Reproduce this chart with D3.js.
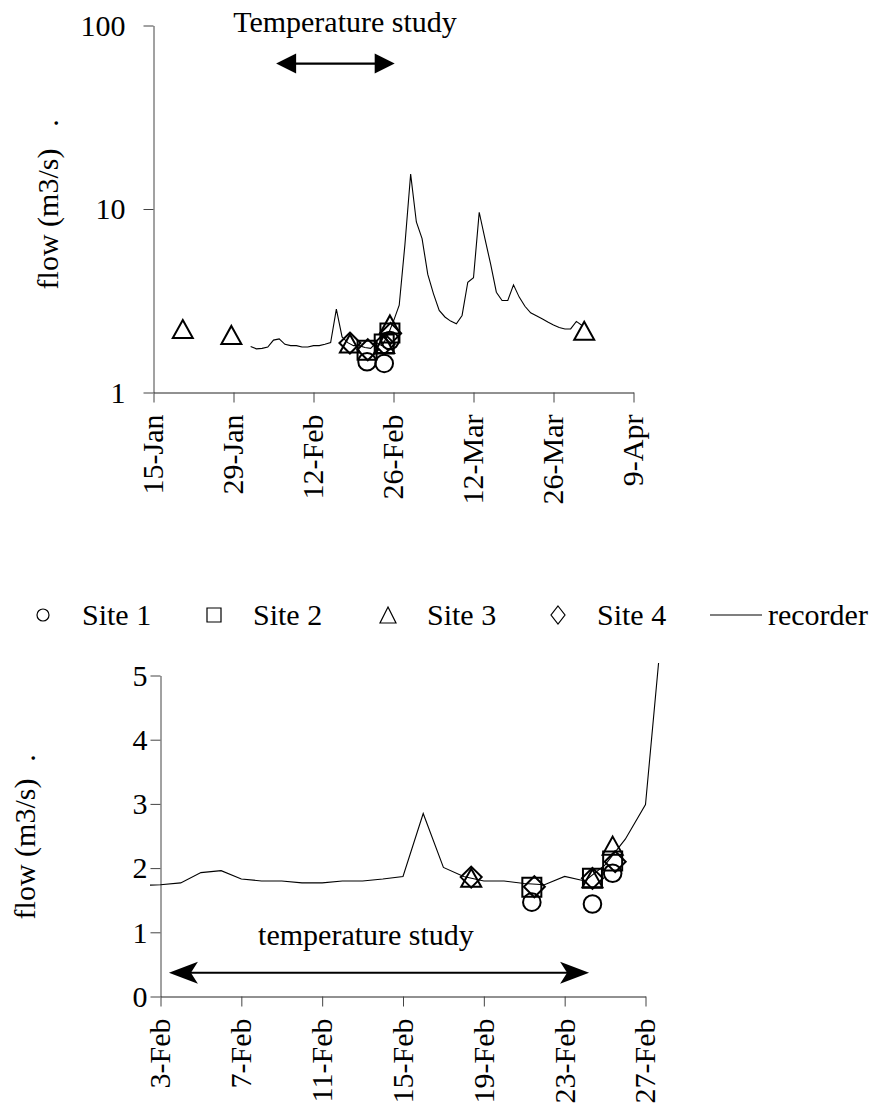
<!DOCTYPE html>
<html><head><meta charset="utf-8">
<title>flow chart r8</title>
<script src="https://cdn.jsdelivr.net/npm/d3@7"></script>
</head><body style="margin:0;background:#fff">
<svg id="c" width="891" height="1115"></svg>
<script>
// ---------------- DATA (revision 8) ----------------
const recorderDates = [
 "2001-02-01","2001-02-02","2001-02-03","2001-02-04","2001-02-05","2001-02-06","2001-02-07",
 "2001-02-08","2001-02-09","2001-02-10","2001-02-11","2001-02-12","2001-02-13","2001-02-14",
 "2001-02-15","2001-02-16","2001-02-17","2001-02-18","2001-02-19","2001-02-20","2001-02-21",
 "2001-02-22","2001-02-23","2001-02-24","2001-02-25","2001-02-26","2001-02-27","2001-02-28",
 "2001-03-01","2001-03-02","2001-03-03","2001-03-04","2001-03-05","2001-03-06","2001-03-07",
 "2001-03-08","2001-03-09","2001-03-10","2001-03-11","2001-03-12","2001-03-13","2001-03-14",
 "2001-03-15","2001-03-16","2001-03-17","2001-03-18","2001-03-19","2001-03-20","2001-03-21",
 "2001-03-22","2001-03-23","2001-03-24","2001-03-25","2001-03-26","2001-03-27","2001-03-28",
 "2001-03-29","2001-03-30","2001-03-31"];
const recorderFlow = [
 1.78,1.73,1.74,1.77,1.93,1.96,1.83,
 1.80,1.80,1.77,1.77,1.80,1.80,1.83,
 1.87,2.85,2.01,1.87,1.80,1.80,1.76,
 1.74,1.87,1.80,2.05,2.45,2.99,6.4,
 15.5,8.5,6.9,4.4,3.45,2.80,2.58,
 2.45,2.37,2.63,3.99,4.22,9.6,6.9,
 5.0,3.52,3.17,3.17,3.86,3.31,2.95,
 2.72,2.62,2.52,2.42,2.33,2.26,2.22,
 2.22,2.44,2.32];

const site1Dates = ["2001-02-21 09:00","2001-02-24 09:00","2001-02-25 09:00"];
const site1Flow  = [1.47,1.44,1.92];
const site2Dates = ["2001-02-21 09:00","2001-02-24 09:00","2001-02-25 09:00"];
const site2Flow  = [1.70,1.84,2.11];
const site3Dates = ["2001-01-20 03:00","2001-01-28 15:00","2001-02-18 09:00","2001-02-24 09:00","2001-02-25 09:00","2001-03-31 09:00"];
const site3Flow  = [2.22,2.06,1.85,1.84,2.35,2.17];
const site4Dates = ["2001-02-18 09:00","2001-02-21 12:00","2001-02-24 09:00","2001-02-25 12:00"];
const site4Flow  = [1.86,1.71,1.84,2.10];

const topTicks = ["2001-01-15","2001-01-29","2001-02-12","2001-02-26","2001-03-12","2001-03-26","2001-04-09"];
const topYTicks = [1,10,100];
const bottomTicks = ["2001-02-03","2001-02-07","2001-02-11","2001-02-15","2001-02-19","2001-02-23","2001-02-27"];
const bottomYTicks = [0,1,2,3,4,5];

const legendLabels = ["Site 1","Site 2","Site 3","Site 4","recorder"];
const yAxisTitle = "flow (m3/s)";
const topStudyLabel = "Temperature study";
const bottomStudyLabel = "temperature study";
const topStudyArrow = ["2001-02-05 11:00","2001-02-26 05:00"];
const topStudyArrowFlow = 62;
const bottomStudyArrow = ["2001-02-03 10:00","2001-02-24 05:00"];
const bottomStudyArrowFlow = 0.37;

// ---------------- HELPERS ----------------
const parseDay = d3.utcParse("%Y-%m-%d");
const parseTime = d3.utcParse("%Y-%m-%d %H:%M");
const fmt = d3.utcFormat("%-d-%b");
const FONT = 30;
const SERIF = "serif";

const recorder = recorderDates.map((d,i)=>({date:parseDay(d), v:recorderFlow[i]}));
const sites = [
  {shape:"circle",   data: site1Dates.map((d,i)=>({date:parseTime(d), v:site1Flow[i]}))},
  {shape:"square",   data: site2Dates.map((d,i)=>({date:parseTime(d), v:site2Flow[i]}))},
  {shape:"triangle", data: site3Dates.map((d,i)=>({date:parseTime(d), v:site3Flow[i]}))},
  {shape:"diamond",  data: site4Dates.map((d,i)=>({date:parseTime(d), v:site4Flow[i]}))}
];

function markerPath(shape, w, h){
  if(shape==="circle"){ const p=d3.path(); p.arc(0,0,w,0,2*Math.PI); p.closePath(); return p.toString(); }
  if(shape==="square"){ return `M${-w},${-w}h${2*w}v${2*w}h${-2*w}Z`; }
  if(shape==="triangle"){ return `M0,${-h}L${w},${h}L${-w},${h}Z`; }
  if(shape==="diamond"){ return `M0,${-h}L${w},0L0,${h}L${-w},0Z`; }
}
const plotSize = {circle:[8.8,8.8], square:[9.5,9.5], triangle:[10,9], diamond:[10.5,10.5]};
const legSize  = {circle:[6,6], square:[7,7], triangle:[8,8], diamond:[7,9]};

const svg = d3.select("#c");
const textLayer = [];

function addText(){
  const t = svg.append("text");
  t.attr("font-family",SERIF).attr("font-size",FONT);
  t.node().getComputedTextLength();
  return t;
}

function drawChart(cfg){
  const g = svg.append("g");
  const x = d3.scaleUtc().domain(cfg.xDomain).range(cfg.xRange);
  const y = cfg.yScale;

  const clipId = cfg.id+"-clip";
  const defs = svg.append("defs");
  defs.append("clipPath").attr("id",clipId).append("rect")
    .attr("x",cfg.clip[0]).attr("y",cfg.clip[1]).attr("width",cfg.clip[2]).attr("height",cfg.clip[3]);

  const xAxis = d3.axisBottom(x).tickValues(cfg.xTicks).tickFormat("").tickSize(10).tickSizeOuter(0);
  const xg = g.append("g").attr("transform",`translate(0,${cfg.yRange0})`).call(xAxis);
  xg.selectAll("text").remove();
  xg.attr("font-family",null).attr("font-size",null);
  xg.select(".domain").attr("stroke","#222");
  xg.selectAll(".tick line").attr("stroke","#444");

  const yAxis = d3.axisLeft(y).tickValues(cfg.yTicks).tickFormat("").tickSize(10).tickSizeOuter(0);
  const yg = g.append("g").attr("transform",`translate(${cfg.xRange0},0)`).call(yAxis);
  yg.selectAll("text").remove();
  yg.attr("font-family",null).attr("font-size",null);
  yg.select(".domain").attr("stroke","#444");
  yg.selectAll(".tick line").attr("stroke","#444");

  const line = d3.line().x(d=>x(d.date)).y(d=>y(d.v));
  g.append("path").datum(recorder).attr("d",line)
    .attr("fill","none").attr("stroke","#000").attr("stroke-width",1.1)
    .attr("clip-path",`url(#${clipId})`);

  const [d0,d1] = cfg.xDomain;
  sites.forEach(s=>{
    g.append("g").selectAll("path").data(s.data.filter(d=>d.date>=d0 && d.date<=d1))
      .join("path")
      .attr("transform",d=>`translate(${x(d.date)},${y(d.v)})`)
      .attr("d",markerPath(s.shape,...plotSize[s.shape]))
      .attr("fill","none").attr("stroke","#000").attr("stroke-width",2);
  });

  const ax0 = x(cfg.arrow[0]), ax1 = x(cfg.arrow[1]), ay = y(cfg.arrowFlow);
  const L = cfg.headLen, H = cfg.headHalf, N = cfg.notch;
  g.append("line").attr("x1",ax0+L*0.6).attr("x2",ax1-L*0.6).attr("y1",ay).attr("y2",ay)
    .attr("stroke","#000").attr("stroke-width",2.2);
  g.append("path").attr("d",`M${ax0},${ay}L${ax0+L},${ay-H}L${ax0+L-N},${ay}L${ax0+L},${ay+H}Z`).attr("fill","#000");
  g.append("path").attr("d",`M${ax1},${ay}L${ax1-L},${ay-H}L${ax1-L+N},${ay}L${ax1-L},${ay+H}Z`).attr("fill","#000");

  textLayer.push(()=>{
    cfg.xTicks.forEach(t=>{
      addText().attr("transform",`translate(${x(t)},${cfg.yRange0+22}) rotate(-90)`)
        .attr("text-anchor","end").attr("dy","0.33em").text(fmt(t));
    });
    cfg.yTicks.forEach(t=>{
      addText().attr("x",cfg.xRange0-10-cfg.yPad).attr("y",y(t)).attr("dy","0.34em")
        .attr("text-anchor","end").text(String(t));
    });
    addText().attr("x",cfg.labelPos[0]).attr("y",cfg.labelPos[1])
      .attr("text-anchor","middle").text(cfg.label);
    addText().attr("transform",`translate(${cfg.titlePos[0]},${cfg.titlePos[1]}) rotate(-90)`)
      .attr("text-anchor","middle").text(yAxisTitle);
    addText().attr("transform",`translate(${cfg.dotPos[0]},${cfg.dotPos[1]}) rotate(-90)`)
      .attr("text-anchor","middle").text(".");
  });
}

drawChart({
  id:"top",
  xDomain:[parseDay("2001-01-15"), parseDay("2001-04-09")],
  xRange:[153.5, 633.5], xRange0:153.5,
  yScale: d3.scaleLog().domain([1,100]).range([392.5,25.5]),
  yRange0:392.5,
  xTicks: topTicks.map(parseDay),
  yTicks: topYTicks, yPad:18,
  clip:[150,20,500,380],
  arrow: topStudyArrow.map(parseTime), arrowFlow: topStudyArrowFlow,
  headLen:20, headHalf:10, notch:0,
  label: topStudyLabel, labelPos:[345,32],
  titlePos:[58,219], dotPos:[58,123]
});

drawChart({
  id:"bot",
  xDomain:[parseDay("2001-02-03"), parseDay("2001-02-27")],
  xRange:[160.5, 645.5], xRange0:160.5,
  yScale: d3.scaleLinear().domain([0,5]).range([996.5,675.5]),
  yRange0:996.5,
  xTicks: bottomTicks.map(parseDay),
  yTicks: bottomYTicks, yPad:3,
  clip:[150,663,560,340],
  arrow: bottomStudyArrow.map(parseTime), arrowFlow: bottomStudyArrowFlow,
  headLen:29, headHalf:11, notch:7,
  label: bottomStudyLabel, labelPos:[366,945],
  titlePos:[35,849], dotPos:[35,758]
});

const legendY = 615;
const legendSymX = [43,214,388,558];
const legendTextX = [82,253,427,597,768];
sites.forEach((s,i)=>{
  svg.append("path").attr("transform",`translate(${legendSymX[i]},${legendY})`)
    .attr("d",markerPath(s.shape,...legSize[s.shape])).attr("fill","none").attr("stroke","#000").attr("stroke-width",1.2);
});
svg.append("line").attr("x1",710).attr("x2",762).attr("y1",legendY).attr("y2",legendY)
  .attr("stroke","#000").attr("stroke-width",1.1);

textLayer.forEach(f=>f());
legendLabels.forEach((t,i)=>{
  addText().attr("x",legendTextX[i]).attr("y",legendY+10).text(t);
});
</script>
</body></html>
